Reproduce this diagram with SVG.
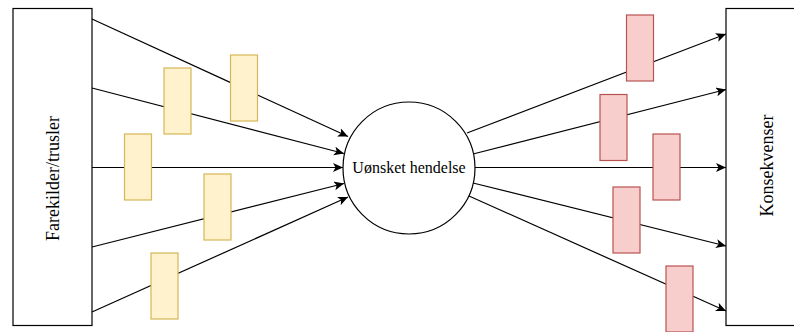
<svg xmlns="http://www.w3.org/2000/svg" width="794" height="332" viewBox="0 0 794 332">
  <style>
    .box { fill: #ffffff; stroke: #000000; stroke-width: 1.2; }
    .barrier { fill: #fff2cc; stroke: #d6b656; stroke-width: 1.2; }
    .impact { fill: #f8cecc; stroke: #b85450; stroke-width: 1.2; }
    .edge { fill: none; stroke: #000000; stroke-width: 1.2; }
    .label { font-family: "Liberation Serif", "Times New Roman", serif; fill: #000000; }
  </style>
  <defs>
    <marker id="arrow" markerUnits="userSpaceOnUse" markerWidth="12" markerHeight="10" refX="10" refY="4.5" orient="auto">
      <path d="M0,0 L10,4.5 L0,9 L2.5,4.5 Z" fill="#000000"/>
    </marker>
  </defs>

  <rect width="794" height="332" fill="#ffffff"/>

  <!-- sources box -->
  <g id="sources">
    <rect class="box" x="13" y="8.5" width="79" height="317"/>
    <text class="label" font-size="18" text-anchor="middle" transform="translate(59,178.5) rotate(-90)">Farekilder/trusler</text>
  </g>

  <!-- consequences box (runs off the right edge) -->
  <g id="consequences">
    <rect class="box" x="726" y="8.5" width="90" height="317"/>
    <text class="label" font-size="18" text-anchor="middle" transform="translate(773,165.5) rotate(-90)">Konsekvenser</text>
  </g>

  <!-- connectors -->
  <g id="connectors">
    <line class="edge" x1="92" y1="19" x2="348" y2="136.5" marker-end="url(#arrow)"/>
    <line class="edge" x1="92" y1="88" x2="344" y2="153.5" marker-end="url(#arrow)"/>
    <line class="edge" x1="92" y1="167.5" x2="343" y2="167.5" marker-end="url(#arrow)"/>
    <line class="edge" x1="92" y1="247" x2="344" y2="183.5" marker-end="url(#arrow)"/>
    <line class="edge" x1="92" y1="312" x2="348" y2="197" marker-end="url(#arrow)"/>

    <line class="edge" x1="467" y1="133" x2="726" y2="34" marker-end="url(#arrow)"/>
    <line class="edge" x1="473" y1="154" x2="726" y2="89.5" marker-end="url(#arrow)"/>
    <line class="edge" x1="475" y1="167.5" x2="726" y2="167.5" marker-end="url(#arrow)"/>
    <line class="edge" x1="473" y1="183" x2="726" y2="246" marker-end="url(#arrow)"/>
    <line class="edge" x1="469" y1="196" x2="726" y2="311" marker-end="url(#arrow)"/>
  </g>

  <!-- central event -->
  <g id="event">
    <circle class="box" cx="409" cy="168" r="66"/>
    <text class="label" font-size="16" text-anchor="middle" x="409" y="173">Uønsket hendelse</text>
  </g>

  <!-- preventive barriers -->
  <g id="barrier-1"><rect class="barrier" x="164" y="68" width="27" height="66"/></g>
  <g id="barrier-2"><rect class="barrier" x="230.5" y="55" width="27" height="66"/></g>
  <g id="barrier-3"><rect class="barrier" x="124.5" y="134" width="27" height="66"/></g>
  <g id="barrier-4"><rect class="barrier" x="204" y="174" width="27" height="66"/></g>
  <g id="barrier-5"><rect class="barrier" x="151" y="253" width="27" height="66"/></g>

  <!-- mitigating barriers -->
  <g id="mitigation-1"><rect class="impact" x="626.5" y="15" width="27" height="66"/></g>
  <g id="mitigation-2"><rect class="impact" x="600" y="94.5" width="27" height="66"/></g>
  <g id="mitigation-3"><rect class="impact" x="653" y="134" width="27" height="66"/></g>
  <g id="mitigation-4"><rect class="impact" x="613" y="187" width="27" height="66"/></g>
  <g id="mitigation-5"><rect class="impact" x="666" y="266" width="27" height="66"/></g>
</svg>
